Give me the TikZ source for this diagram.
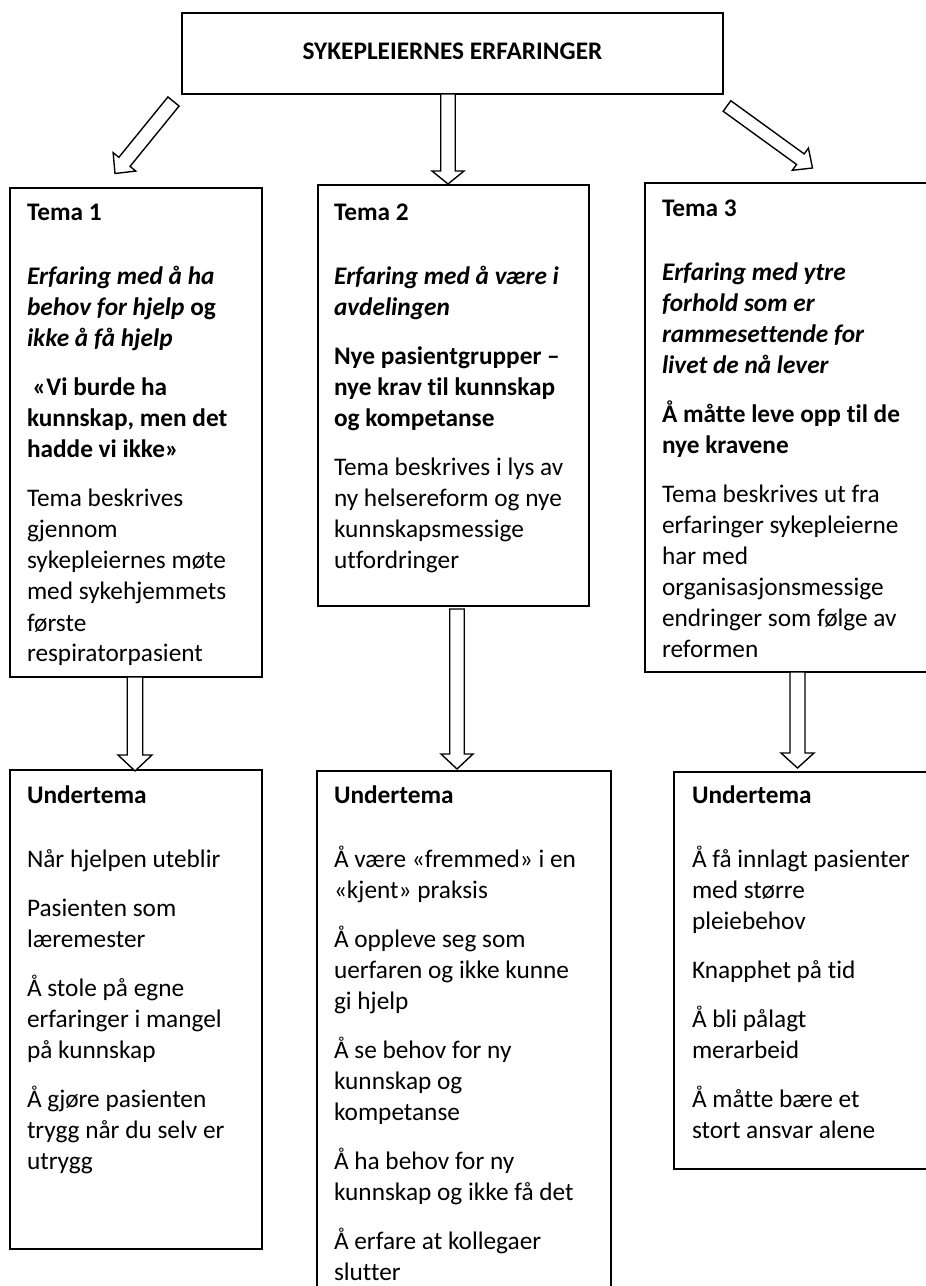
\documentclass[tikz,border=0pt]{standalone}
\usepackage{fontspec}
\setmainfont{Carlito}[Ligatures={TeX,NoCommon}]
\usetikzlibrary{calc,fit}
\newlength\px
\setlength\px{0.4348pt}
\newcommand{\linex}[1]{\hbox{#1}}
\newcommand{\pgap}{\vskip 18\px}
\newcommand{\hgap}{\vskip 33\px}
\newcommand{\txtblock}[1]{\vtop{\baselineskip=31\px\lineskiplimit=-1000pt\lineskip=0pt\relax #1}}
\newcommand{\bi}[1]{\textbf{\textit{#1}}}
% #1 start, #2 tip, #3 name of head base, #4 half shaft, #5 half head, #6 head length
\newcommand{\blockarrow}[6]{%
  \coordinate (#3) at ($(#2)!#6!(#1)$);
  \draw[arrowline] ($(#1)!#4!90:(#2)$) -- ($(#3)!#4!90:(#2)$) -- ($(#3)!#5!90:(#2)$) -- (#2)
    -- ($(#3)!#5!-90:(#2)$) -- ($(#3)!#4!-90:(#2)$) -- ($(#1)!#4!-90:(#2)$) -- cycle;
}
\begin{document}
\begin{tikzpicture}[x=0.4348pt, y=-0.4348pt,
  every node/.style={inner sep=0pt, outer sep=0pt, font=\fontsize{11}{13.5}\selectfont, text=black},
  box/.style={draw=black, line width=0.9pt, fill=white},
  arrowline/.style={draw=black, fill=white, line width=0.6pt, line join=miter}]
\fill[white] (0,0) rectangle (925,1286);
\useasboundingbox (0,0) rectangle (925,1286);

% boxes
\node[box, fit={(182,13) (723,94)}] (top) {};
\node[box, fit={(10,188) (262,677)}] (t1) {};
\node[box, fit={(318,185) (589,606)}] (t2) {};
\node[box, fit={(645,183) (940,672)}] (t3) {};
\node[box, fit={(10,770) (262,1249)}] (u1) {};
\node[box, fit={(317,771) (611,1300)}] (u2) {};
\node[box, fit={(674,772) (940,1169)}] (u3) {};

% title
\node[anchor=base] (toptxt) at (452.5,60) {\textbf{SYKEPLEIERNES ERFARINGER}};

% block arrows
\coordinate (a1s) at (173.5,101.5); \coordinate (a1t) at (115,173.5);
\coordinate (a2s) at (448,94);      \coordinate (a2t) at (448,184);
\coordinate (a3s) at (727,106);     \coordinate (a3t) at (812.5,168);
\coordinate (a4s) at (135,677);     \coordinate (a4t) at (135,771);
\coordinate (a5s) at (457,609);     \coordinate (a5t) at (457,769);
\coordinate (a6s) at (797.5,672);   \coordinate (a6t) at (797.5,768);
\blockarrow{a1s}{a1t}{a1h}{3.13pt}{6.35pt}{6.52pt}
\blockarrow{a2s}{a2t}{a2h}{3.17pt}{6.96pt}{5.65pt}
\blockarrow{a3s}{a3t}{a3h}{2.83pt}{5.96pt}{6.52pt}
\blockarrow{a4s}{a4t}{a4h}{3.35pt}{7.39pt}{6.96pt}
\blockarrow{a5s}{a5t}{a5h}{3.13pt}{6.96pt}{6.52pt}
\blockarrow{a6s}{a6t}{a6h}{3.26pt}{7.17pt}{6.52pt}

% Tema 1
\node[anchor=base west] (t1txt) at (27,221) {\txtblock{%
\linex{\textbf{Tema 1}}\hgap
\linex{\bi{Erfaring med å ha}}
\linex{\textbf{\textit{behov for hjelp} og}}
\linex{\bi{ikke å få hjelp}}\pgap
\linex{\textbf{\ «Vi burde ha}}
\linex{\textbf{kunnskap, men det}}
\linex{\textbf{hadde vi ikke»}}\pgap
\linex{Tema beskrives}
\linex{gjennom}
\linex{sykepleiernes møte}
\linex{med sykehjemmets}
\linex{første}
\linex{respiratorpasient}}};

% Tema 2
\node[anchor=base west] (t2txt) at (334,221) {\txtblock{%
\linex{\textbf{Tema 2}}\hgap
\linex{\bi{Erfaring med å være i}}
\linex{\bi{avdelingen}}\pgap
\linex{\textbf{Nye pasientgrupper –}}
\linex{\textbf{nye krav til kunnskap}}
\linex{\textbf{og kompetanse}}\pgap
\linex{Tema beskrives i lys av}
\linex{ny helsereform og nye}
\linex{kunnskapsmessige}
\linex{utfordringer}}};

% Tema 3
\node[anchor=base west] (t3txt) at (662,217) {\txtblock{%
\linex{\textbf{Tema 3}}\hgap
\linex{\bi{Erfaring med ytre}}
\linex{\bi{forhold som er}}
\linex{\bi{rammesettende for}}
\linex{\bi{livet de nå lever}}\pgap
\linex{\textbf{Å måtte leve opp til de}}
\linex{\textbf{nye kravene}}\pgap
\linex{Tema beskrives ut fra}
\linex{erfaringer sykepleierne}
\linex{har med}
\linex{organisasjonsmessige}
\linex{endringer som følge av}
\linex{reformen}}};

% Undertema 1
\node[anchor=base west] (u1txt) at (27,803) {\txtblock{%
\linex{\textbf{Undertema}}\hgap
\linex{Når hjelpen uteblir}\pgap
\linex{Pasienten som}
\linex{læremester}\pgap
\linex{Å stole på egne}
\linex{erfaringer i mangel}
\linex{på kunnskap}\pgap
\linex{Å gjøre pasienten}
\linex{trygg når du selv er}
\linex{utrygg}}};

% Undertema 2
\node[anchor=base west] (u2txt) at (334,803) {\txtblock{%
\linex{\textbf{Undertema}}\hgap
\linex{Å være «fremmed» i en}
\linex{«kjent» praksis}\pgap
\linex{Å oppleve seg som}
\linex{uerfaren og ikke kunne}
\linex{gi hjelp}\pgap
\linex{Å se behov for ny}
\linex{kunnskap og}
\linex{kompetanse}\pgap
\linex{Å ha behov for ny}
\linex{kunnskap og ikke få det}\pgap
\linex{Å erfare at kollegaer}
\linex{slutter}}};

% Undertema 3
\node[anchor=base west] (u3txt) at (692,803) {\txtblock{%
\linex{\textbf{Undertema}}\hgap
\linex{Å få innlagt pasienter}
\linex{med større}
\linex{pleiebehov}\pgap
\linex{Knapphet på tid}\pgap
\linex{Å bli pålagt}
\linex{merarbeid}\pgap
\linex{Å måtte bære et}
\linex{stort ansvar alene}}};
\end{tikzpicture}
\end{document}
